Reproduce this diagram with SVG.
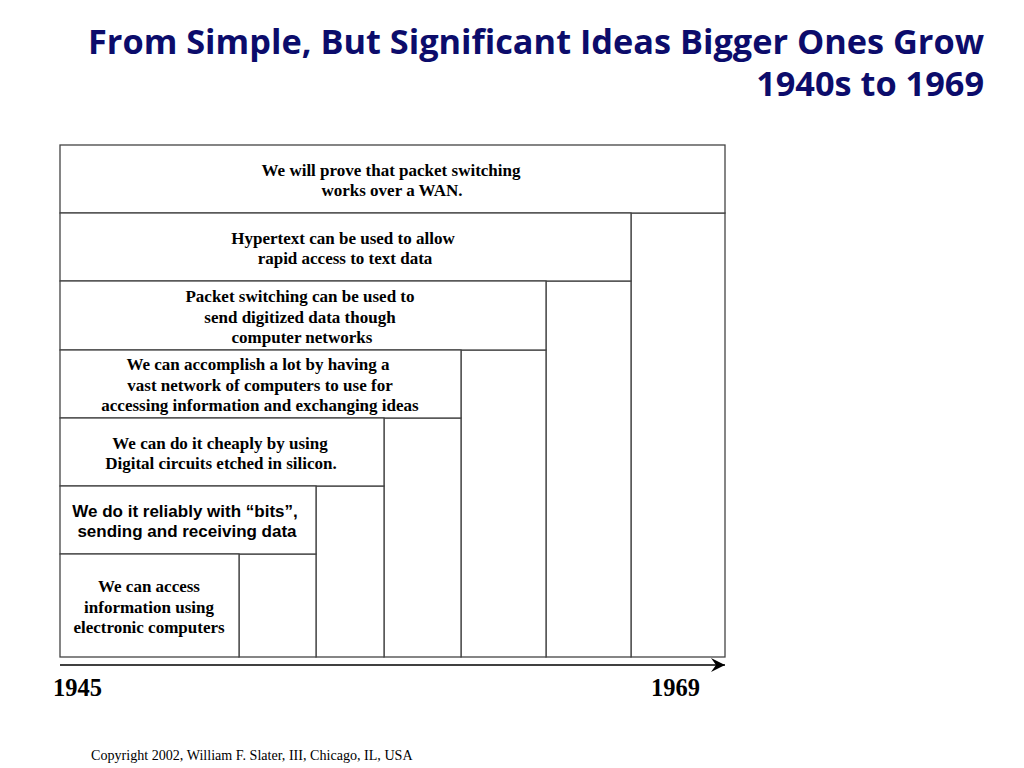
<svg xmlns="http://www.w3.org/2000/svg" width="1024" height="768" viewBox="0 0 1024 768">
<style>
.box{fill:#fff;stroke:#444;stroke-width:1.3}
.t{font-family:"Liberation Serif","Times New Roman",serif;font-weight:bold;font-size:17px;fill:#000;text-anchor:middle}
.s{font-family:"Liberation Sans",Arial,sans-serif;font-weight:bold;font-size:17px;fill:#000;text-anchor:middle}
.title{font-family:"Open Sans","Noto Sans",sans-serif;font-weight:bold;font-size:34.3px;fill:#0c0c6b;text-anchor:end}
.yr{font-family:"Liberation Serif","Times New Roman",serif;font-weight:bold;font-size:24.5px;fill:#000}
.cp{font-family:"Liberation Serif","Times New Roman",serif;font-size:14.1px;fill:#000}
</style>
<defs>
<marker id="arr" markerUnits="userSpaceOnUse" markerWidth="16" markerHeight="16" refX="14" refY="7" orient="auto">
<path d="M0,0 L14,7 L0,14 L5,7 Z" fill="#000"/>
</marker>
</defs>
<rect width="1024" height="768" fill="#fff"/>
<text class="title" x="984" y="54">From Simple, But Significant Ideas Bigger Ones Grow</text>
<text class="title" x="984" y="96">1940s to 1969</text>

<g id="col-1969"><rect class="box" x="631" y="213" width="94" height="444"/></g>
<g id="col-6"><rect class="box" x="546" y="281" width="85" height="376"/></g>
<g id="col-5"><rect class="box" x="461" y="350" width="85" height="307"/></g>
<g id="col-4"><rect class="box" x="384" y="418" width="77" height="239"/></g>
<g id="col-3"><rect class="box" x="316" y="486" width="68" height="171"/></g>
<g id="col-2"><rect class="box" x="239" y="554" width="77" height="103"/></g>

<g id="node-wan">
<rect class="box" x="60" y="145" width="665" height="68"/>
<text class="t" x="391" y="176">We will prove that packet switching</text>
<text class="t" x="392" y="196">works over a WAN.</text>
</g>
<g id="node-hypertext">
<rect class="box" x="60" y="213" width="571" height="68"/>
<text class="t" x="343" y="244">Hypertext can be used to allow</text>
<text class="t" x="345" y="264">rapid access to text data</text>
</g>
<g id="node-packet">
<rect class="box" x="60" y="281" width="486" height="69"/>
<text class="t" x="300" y="302">Packet switching can be used to</text>
<text class="t" x="300" y="323">send digitized data though</text>
<text class="t" x="302" y="343">computer networks</text>
</g>
<g id="node-network">
<rect class="box" x="60" y="350" width="401" height="68"/>
<text class="t" x="258" y="370">We can accomplish a lot by having a</text>
<text class="t" x="260" y="391">vast network of computers to use for</text>
<text class="t" x="260" y="411">accessing information and exchanging ideas</text>
</g>
<g id="node-silicon">
<rect class="box" x="60" y="418" width="324" height="68"/>
<text class="t" x="220" y="449">We can do it cheaply by using</text>
<text class="t" x="221" y="469">Digital circuits etched in silicon.</text>
</g>
<g id="node-bits">
<rect class="box" x="60" y="486" width="256" height="68"/>
<text class="s" x="185" y="517">We do it reliably with “bits”,</text>
<text class="s" x="187" y="537">sending and receiving data</text>
</g>
<g id="node-computers">
<rect class="box" x="60" y="554" width="179" height="103"/>
<text class="t" x="149" y="592">We can access</text>
<text class="t" x="149" y="613">information using</text>
<text class="t" x="149" y="633">electronic computers</text>
</g>

<g id="connectors">
<line x1="60" y1="665" x2="725" y2="665" stroke="#000" stroke-width="1.6" marker-end="url(#arr)"/>
</g>
<text class="yr" x="53" y="696">1945</text>
<text class="yr" x="651" y="696">1969</text>
<text class="cp" x="91" y="760">Copyright 2002, William F. Slater, III, Chicago, IL, USA</text>
</svg>
